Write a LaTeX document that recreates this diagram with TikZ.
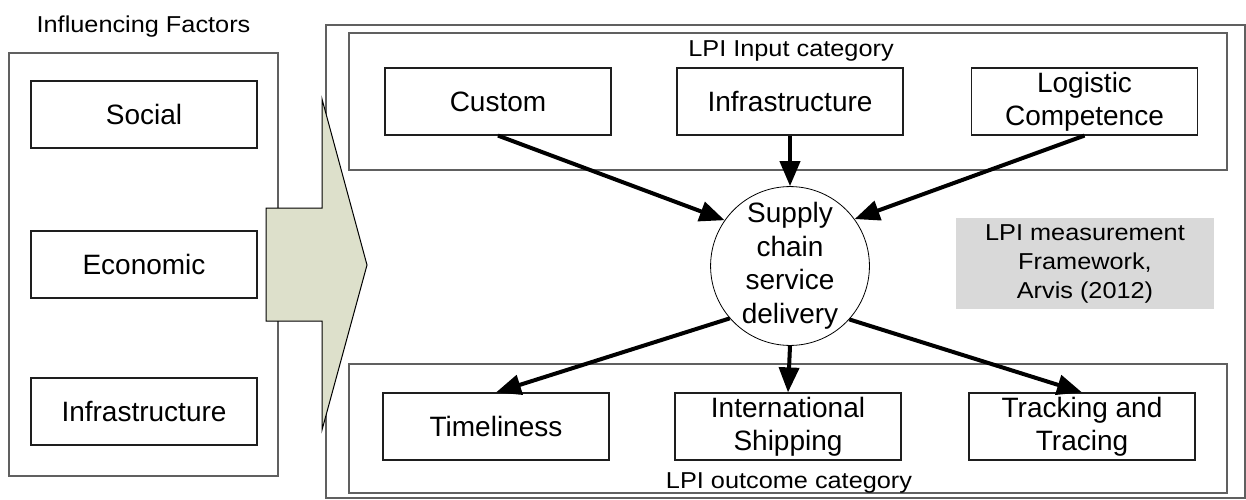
\documentclass[tikz,border=0pt]{standalone}
\usepackage{fontspec}
\setmainfont{Liberation Sans}
\newfontfamily\lblfont[FakeStretch=1.1]{Liberation Sans}
\usetikzlibrary{arrows.meta}
\definecolor{arrowfill}{RGB}{221,224,203}
\definecolor{framecol}{RGB}{96,96,96}
\definecolor{boxcol}{RGB}{30,30,30}
\definecolor{notegray}{RGB}{217,217,217}
\begin{document}
\begin{tikzpicture}[x=1pt,y=-1pt,
  frame/.style={draw=framecol, line width=1.3pt, inner sep=0pt},
  box/.style={draw=boxcol, line width=1.2pt, minimum width=226pt, minimum height=67pt,
    inner sep=0pt, align=center, font=\fontsize{28}{33}\selectfont},
  lbl/.style={inner sep=0pt, align=center, font=\lblfont\fontsize{23}{29}\selectfont},
  flow/.style={line width=4pt, draw=black, -{Triangle[length=25pt,width=20pt]}}]
\useasboundingbox (0,0) rectangle (1246,500);

% left group
\node[lbl, anchor=base] (infl) at (143.5,33) {Influencing Factors};
\node[frame, minimum width=269pt, minimum height=423pt] (lf) at (143.5,264.5) {};
\node[box] (social) at (144,114.5) {Social};
\node[box] (econ) at (144,264.5) {Economic};
\node[box] (infraL) at (144,411.5) {Infrastructure};

% right outer frame
\node[frame, minimum width=919pt, minimum height=473pt] (outer) at (785.5,261.5) {};

% big arrow
\draw[draw=black, line width=1pt, fill=arrowfill]
  (266,208) -- (322,208) -- (322,99) -- (367,265) -- (322,430) -- (322,321) -- (266,321) -- cycle;

% input category
\node[frame, minimum width=878pt, minimum height=137pt] (incat) at (788,101.5) {};
\node[lbl, anchor=base] (inlbl) at (791,57) {LPI Input category};
\node[box] (custom) at (498,101.5) {Custom};
\node[box] (infraT) at (790,101.5) {Infrastructure};
\node[box] (logi) at (1084.5,101.5) {Logistic\\Competence};

% outcome category
\node[frame, minimum width=878pt, minimum height=129pt] (outcat) at (788,428.5) {};
\node[lbl, anchor=base] (outlbl) at (789,488) {LPI outcome category};
\node[box] (time) at (496,426.5) {Timeliness};
\node[box] (intl) at (788,426.5) {International\\Shipping};
\node[box] (track) at (1082,426.5) {Tracking and\\Tracing};

% central circle
\node[circle, draw=black, line width=0.8pt, fill=white, minimum size=152pt, inner sep=0pt,
  align=center, font=\fontsize{28}{33.5}\selectfont] (sc) at (790,266)
  {Supply\\chain\\service\\delivery};

% note
\node[fill=notegray, minimum width=258pt, minimum height=91pt, inner sep=0pt,
  align=center, font=\lblfont\fontsize{23}{29}\selectfont] (note) at (1085,263.5)
  {LPI measurement\\Framework,\\Arvis (2012)};

% connectors
\draw[flow] (custom.south) -- (sc.145);
\draw[flow] (infraT.south) -- (sc.north);
\draw[flow] (logi.south) -- (sc.36);
\draw[flow] (sc.221) -- (time.north);
\draw[flow] (sc.south) -- (intl.north);
\draw[flow] (sc.318) -- (track.north);
\end{tikzpicture}
\end{document}
